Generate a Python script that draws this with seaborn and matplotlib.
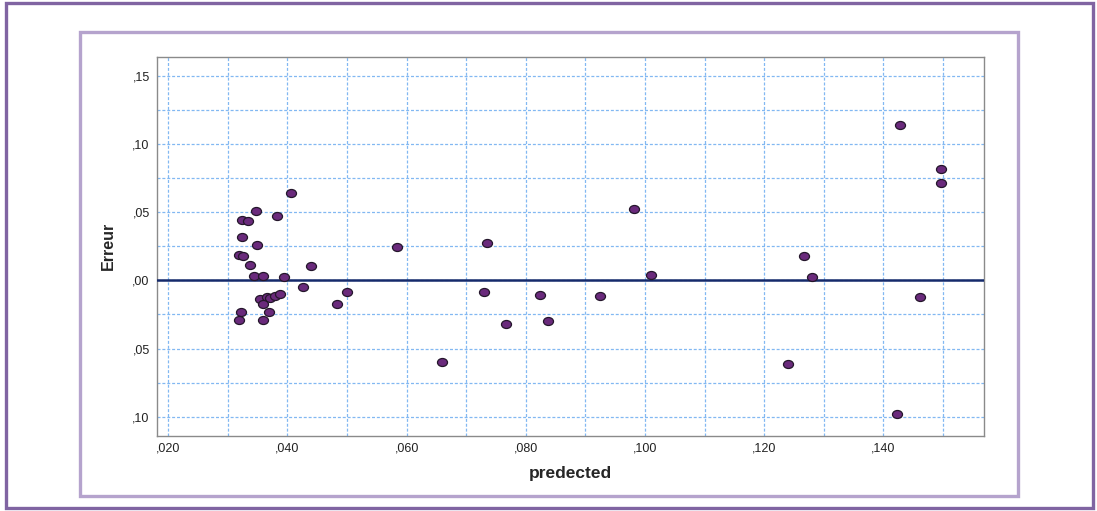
import numpy as np
import pandas as pd
import matplotlib
matplotlib.use("Agg")
import matplotlib.pyplot as plt
from matplotlib.patches import Rectangle
from matplotlib.path import Path
from matplotlib.transforms import Affine2D
import seaborn as sns

# Predicted values and residuals
predicted = [
    0.04055, 0.03467, 0.03830, 0.03242, 0.03343, 0.03237, 0.03494,
    0.03187, 0.03259, 0.03366, 0.03444, 0.03590, 0.03947, 0.04400,
    0.04256, 0.04995, 0.04827, 0.03534, 0.03652, 0.03707, 0.03796,
    0.03880, 0.03590, 0.03215, 0.03685, 0.03187, 0.03590,
    0.05844, 0.07350, 0.09813, 0.10098, 0.07300, 0.08245, 0.09247,
    0.07669, 0.08379, 0.06590,
    0.14283, 0.14972, 0.14960, 0.12677, 0.12806, 0.14613, 0.12398, 0.14238,
]
erreur = [
    0.0643, 0.0509, 0.0474, 0.0440, 0.0433, 0.0318, 0.0257,
    0.0183, 0.0176, 0.0110, 0.0029, 0.0034, 0.0025, 0.0105,
    -0.0051, -0.0085, -0.0171, -0.0139, -0.0122, -0.0132, -0.0117,
    -0.0098, -0.0173, -0.0229, -0.0235, -0.0293, -0.0293,
    0.0242, 0.0274, 0.0523, 0.0040, -0.0088, -0.0107, -0.0112,
    -0.0320, -0.0295, -0.0601,
    0.1136, 0.0817, 0.0716, 0.0179, 0.0022, -0.0125, -0.0613, -0.0977,
]

x_ticks = [0.02, 0.04, 0.06, 0.08, 0.10, 0.12, 0.14]
x_tick_labels = [",020", ",040", ",060", ",080", ",100", ",120", ",140"]
y_ticks = [0.15, 0.10, 0.05, 0.0, -0.05, -0.10]
y_tick_labels = [",15", ",10", ",05", ",00", ",05", ",10"]

df = pd.DataFrame({"predected": predicted, "Erreur": erreur})

sns.set_style("white")
plt.rcParams["font.family"] = ["Liberation Sans", "DejaVu Sans"]

W, H = 1097, 511
fig = plt.figure(figsize=(W / 100, H / 100), dpi=100)

# Decorative double frame around the chart
def frame(x0, y0, x1, y1, color, lw):
    fig.patches.append(Rectangle((x0 / W, 1 - y1 / H), (x1 - x0) / W, (y1 - y0) / H,
                                 transform=fig.transFigure, fill=False,
                                 edgecolor=color, linewidth=lw, zorder=0))

frame(5.5, 3.0, 1093.3, 508.0, "#8064a2", 2.4)
frame(80.2, 32.2, 1018.3, 495.7, "#b5a3cd", 2.4)

ax = fig.add_axes([156.7 / W, 1 - 435.7 / H, (984 - 156.7) / W, (435.7 - 56.7) / H])

# Slightly flattened ellipse marker
ellipse = Path.unit_circle().transformed(Affine2D().scale(1.25, 1.0))

sns.scatterplot(data=df, x="predected", y="Erreur", ax=ax, marker=ellipse,
                s=52, color="#6a2a7c", edgecolor="#24162b", linewidth=0.9,
                zorder=4, legend=False)

ax.axhline(0, color="#152a6b", linewidth=1.8, zorder=3)

ax.set_xlim(0.01805, 0.1569)
ax.set_ylim(-0.1139, 0.164)

ax.set_xticks(x_ticks)
ax.set_xticklabels(x_tick_labels)
ax.set_xticks(np.arange(0.03, 0.151, 0.02), minor=True)
ax.set_yticks(y_ticks)
ax.set_yticklabels(y_tick_labels)
ax.set_yticks([0.125, 0.075, 0.025, -0.025, -0.075], minor=True)

ax.grid(True, which="both", color="#82b8f2", linestyle=(0, (2.4, 1.5)), linewidth=0.9)
ax.set_axisbelow(True)
ax.tick_params(which="both", length=0)
ax.tick_params(axis="x", labelsize=9, pad=5, colors="#222222")
ax.tick_params(axis="y", labelsize=9, pad=5, colors="#222222")

for sp in ax.spines.values():
    sp.set_color("#8a8a8a")
    sp.set_linewidth(1.0)

ax.set_xlabel("predected", fontsize=12.5, fontweight="bold", labelpad=8)
ax.set_ylabel("Erreur", fontsize=11.5, fontweight="bold", labelpad=12)

fig.savefig("out.png", dpi=100)
